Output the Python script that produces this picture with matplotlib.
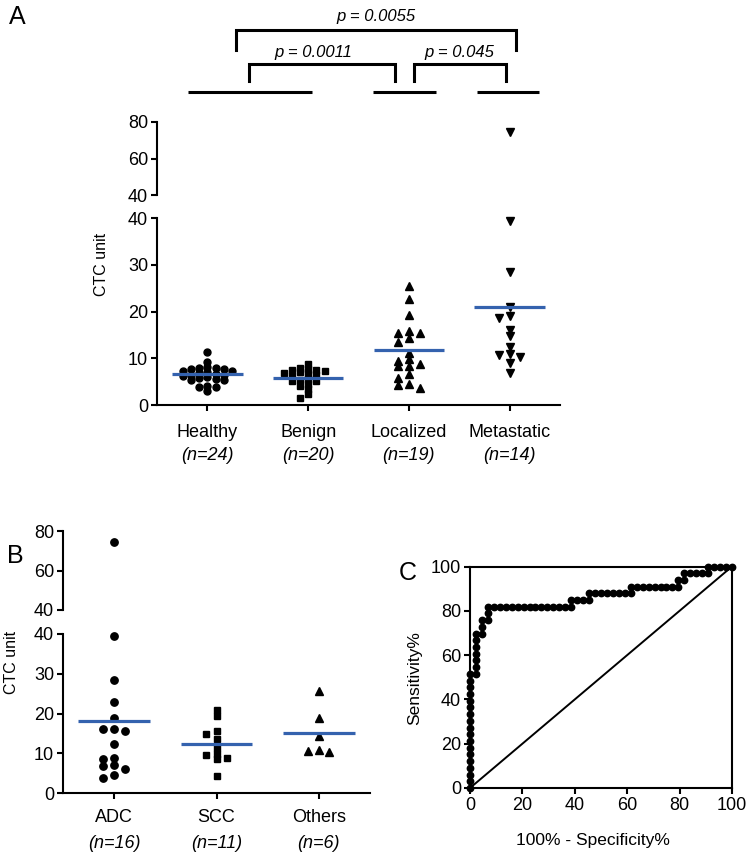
import matplotlib
matplotlib.use('Agg')
import matplotlib.pyplot as plt
import numpy as np

plt.rcParams['font.family'] = ['Liberation Sans', 'DejaVu Sans']

W, H, DPI = 748, 858, 100

# ---------------- data ----------------
a_groups = ['Healthy', 'Benign', 'Localized', 'Metastatic']
a_ns = ['(n=24)', '(n=20)', '(n=19)', '(n=14)']
healthy = [11.3, 9.2, 8.1, 8.0, 7.9, 7.8, 7.7, 7.3, 7.2, 7.0, 6.8, 6.7,
           6.5, 6.4, 6.2, 6.0, 5.7, 5.5, 5.4, 5.4, 4.1, 3.9, 3.9, 3.0]
benign = [8.7, 7.9, 7.7, 7.5, 7.5, 7.3, 7.0, 6.85, 6.6, 6.5, 6.2, 5.6,
          5.4, 5.1, 5.1, 4.4, 4.1, 3.4, 2.3, 1.4]
localized = [25.6, 22.7, 19.3, 15.9, 15.5, 15.5, 14.3, 13.4, 11.2, 9.8,
             9.4, 8.8, 8.45, 8.35, 6.65, 5.85, 4.5, 4.3, 3.7]
metastatic = [74.5, 39.5, 28.6, 21.1, 19.1, 18.7, 16.1, 14.8, 12.4, 10.9,
              10.7, 10.2, 9.0, 6.95]

b_groups = ['ADC', 'SCC', 'Others']
b_ns = ['(n=16)', '(n=11)', '(n=6)']
adc = [74.5, 39.5, 28.5, 22.9, 18.75, 16.0, 16.0, 15.6, 12.25, 8.75, 8.5,
       7.1, 6.8, 6.0, 4.6, 3.75]
scc = [20.8, 19.4, 15.6, 14.75, 13.5, 11.4, 9.8, 9.6, 8.9, 8.5, 4.3]
others = [25.6, 18.9, 14.3, 10.8, 10.6, 10.2]

p_texts = ['p = 0.0055', 'p = 0.0011', 'p = 0.045']

BLUE = '#3462AE'

fig = plt.figure(figsize=(W / DPI, H / DPI), dpi=DPI)


def px_rect(x0, y0, x1, y1):
    return [x0 / W, 1 - y1 / H, (x1 - x0) / W, (y1 - y0) / H]


def style_axis(ax):
    for s in ax.spines.values():
        s.set_linewidth(1.5)
    ax.tick_params(direction='out', length=4.5, width=1.5, labelsize=13,
                   pad=2, color='black')
    ax.patch.set_alpha(0)


def swarm(ax_lo, ax_hi, xc, vals, step_px, row_px, min_dy):
    """Row-binned beeswarm on an integer column grid (pixel space)."""
    vals = np.asarray(vals, float)
    ypx = np.array([(ax_hi if v > 40 else ax_lo).transData.transform((0, v))[1]
                    for v in vals])
    order = np.argsort(-ypx, kind='stable')
    cols = np.zeros(len(vals))
    placed = []
    cand = [0, -1, 1, -2, 2, -3, 3, -4, 4, -5, 5, -6, 6]
    i = 0
    while i < len(order):
        row = [order[i]]
        j = i + 1
        while j < len(order) and ypx[order[i]] - ypx[order[j]] <= row_px:
            row.append(order[j])
            j += 1
        used = set()
        for idx in row:
            chosen = 0
            for c in cand:
                if c in used:
                    continue
                if any(pc == c and abs(py - ypx[idx]) < min_dy
                       for pc, py in placed):
                    continue
                chosen = c
                break
            used.add(chosen)
            placed.append((chosen, ypx[idx]))
            cols[idx] = chosen
        i = j
    unit = (ax_lo.transData.transform((1, 0))[0]
            - ax_lo.transData.transform((0, 0))[0])
    return xc + cols * step_px / unit


def broken_panel(x0, x1, y80, y40hi, y40lo, y0, groups, ns, datasets,
                 markers, msizes, steps, rows, off1, off2):
    ax_lo = fig.add_axes(px_rect(x0, y40lo, x1, y0))
    ax_hi = fig.add_axes(px_rect(x0, y80, x1, y40hi))
    n = len(groups)
    for ax in (ax_lo, ax_hi):
        ax.set_xlim(-0.5, n - 0.5)
        ax.spines['top'].set_visible(False)
        ax.spines['right'].set_visible(False)
        style_axis(ax)
    ax_lo.set_ylim(0, 40)
    ax_hi.set_ylim(40, 80)
    ax_lo.set_yticks([0, 10, 20, 30, 40])
    ax_hi.set_yticks([40, 60, 80])
    for ax in (ax_lo, ax_hi):
        ax.set_yticks([40], minor=True)
        ax.tick_params(axis='y', which='minor', direction='in', length=4.5,
                       width=1.5)
    ax_hi.spines['bottom'].set_visible(False)
    ax_hi.tick_params(axis='x', which='both', bottom=False, labelbottom=False)
    ax_lo.set_xticks(range(n))
    ax_lo.set_xticklabels([''] * n)
    ax_lo.tick_params(axis='x', which='minor', bottom=False)
    for i, (vals, mk, ms, st, rp) in enumerate(zip(datasets, markers, msizes,
                                                   steps, rows)):
        vals = np.asarray(vals, float)
        xs = swarm(ax_lo, ax_hi, i, vals, st, rp, 4.0)
        lo = vals <= 40
        ax_lo.plot(xs[lo], vals[lo], linestyle='none', marker=mk, ms=ms,
                   color='black', clip_on=False, zorder=3)
        ax_hi.plot(xs[~lo], vals[~lo], linestyle='none', marker=mk, ms=ms,
                   color='black', clip_on=False, zorder=3)
        m = vals.mean()
        ax_lo.plot([i - 0.35, i + 0.35], [m, m], color=BLUE, lw=2.3,
                   solid_capstyle='butt', zorder=4)
        ax_lo.annotate(groups[i], xy=(i, 0), xycoords=('data', 'axes fraction'),
                       xytext=(0, -off1 * 0.72), textcoords='offset points',
                       ha='center', va='center', fontsize=13)
        ax_lo.annotate(ns[i], xy=(i, 0), xycoords=('data', 'axes fraction'),
                       xytext=(0, -off2 * 0.72), textcoords='offset points',
                       ha='center', va='center', fontsize=13, fontstyle='italic')
    return ax_lo, ax_hi


# ---------------- Panel A ----------------
axA_lo, axA_hi = broken_panel(157, 560, 122, 195, 218.3, 405, a_groups, a_ns,
                              [healthy, benign, localized, metastatic],
                              ['o', 's', '^', 'v'], [5.0, 4.6, 5.3, 5.3],
                              [8.2, 8.2, 10.8, 10.8], [4.5, 4.5, 5.5, 5.5],
                              27, 50)
fig.text(101 / W, 1 - 264 / H, 'CTC unit', rotation=90, ha='center',
         va='center', fontsize=11.5)
fig.text(17 / W, 1 - 17 / H, 'A', ha='center', va='center', fontsize=18)

# significance brackets
axB = fig.add_axes(px_rect(157, 0, 560, 110))
axB.set_xlim(-0.5, 3.5)
axB.set_ylim(110, 0)
axB.axis('off')
group_bars = [(-0.197, 1.043), (1.644, 2.269), (2.676, 3.288)]
for a, b in group_bars:
    axB.plot([a, b], [92, 92], color='black', lw=2.2, solid_capstyle='butt')
brackets = [(0.284, 3.063, 29.5, 50), (0.413, 1.862, 63.5, 80.5),
            (2.051, 2.964, 63.5, 80.5)]
for a, b, top, bot in brackets:
    axB.plot([a, a, b, b], [bot, top, top, bot], color='black', lw=2.2,
             solid_joinstyle='miter')
p_pos = [(1.674, 16), (1.048, 53), (2.498, 53)]
for t, (x, y) in zip(p_texts, p_pos):
    axB.text(x, y, t, ha='center', va='center', fontsize=12,
             fontstyle='italic')

# ---------------- Panel B ----------------
axb_lo, axb_hi = broken_panel(63, 370, 531, 610, 634, 793, b_groups, b_ns,
                              [adc, scc, others], ['o', 's', '^'],
                              [5.3, 4.8, 5.3], [10.8, 10.5, 10.5],
                              [5.0, 5.0, 5.0], 24, 50)
fig.text(12 / W, 1 - 662 / H, 'CTC unit', rotation=90, ha='center',
         va='center', fontsize=11.5)
fig.text(15 / W, 1 - 556 / H, 'B', ha='center', va='center', fontsize=18)

# ---------------- Panel C (ROC) ----------------
axc = fig.add_axes(px_rect(470, 566.5, 732, 788))
style_axis(axc)
axc.set_xlim(0, 100)
axc.set_ylim(0, 100)
axc.set_xticks(range(0, 101, 20))
axc.set_yticks(range(0, 101, 20))
controls = np.array(healthy + benign)
cases = np.array(localized + metastatic)
allv = np.concatenate([controls, cases])
lab = np.concatenate([np.zeros(len(controls)), np.ones(len(cases))])
order = np.argsort(-allv, kind='stable')
fpr = np.concatenate([[0], np.cumsum(lab[order] == 0) / len(controls) * 100])
tpr = np.concatenate([[0], np.cumsum(lab[order] == 1) / len(cases) * 100])
axc.plot([0, 100], [0, 100], color='black', lw=1.4, zorder=2)
axc.plot(fpr, tpr, '-o', color='black', ms=4.6, lw=1.5, clip_on=False,
         zorder=3)
fig.text(593 / W, 1 - 840 / H, '100% - Specificity%', ha='center',
         va='center', fontsize=12.5)
fig.text(415 / W, 1 - 678 / H, 'Sensitivity%', rotation=90, ha='center',
         va='center', fontsize=12.5)
fig.text(408 / W, 1 - 573 / H, 'C', ha='center', va='center', fontsize=18)

fig.savefig('out.png', dpi=DPI)
